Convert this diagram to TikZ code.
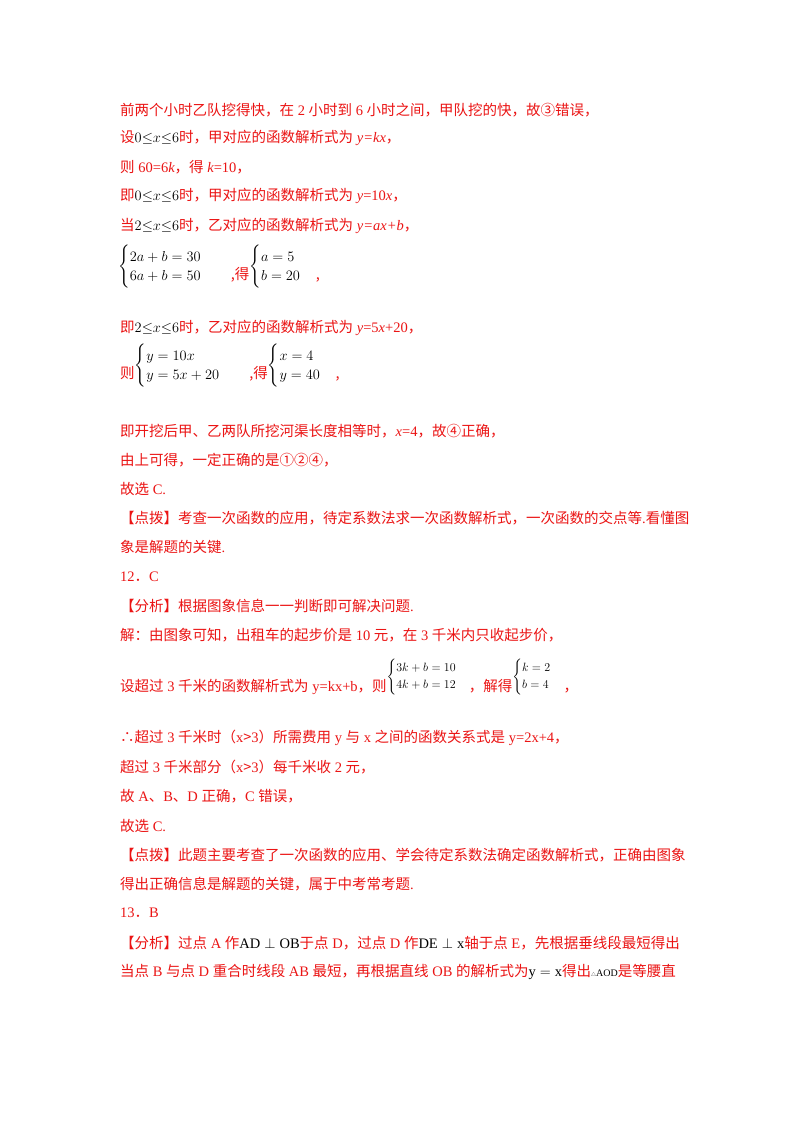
\documentclass[tikz,border=0pt]{standalone}
\usepackage{amsmath}
\usepackage{fontspec}
\setmainfont{Liberation Serif}
\newfontfamily\cjk{Noto Sans CJK SC}
\newcommand\rr[1]{{\rmfamily #1}}
\newcommand\ri[1]{{\rmfamily\itshape #1}}
\newcommand\bm[1]{\textcolor{black}{#1}}
\definecolor{rd}{RGB}{235,20,20}
\begin{document}
\begin{tikzpicture}[x=1pt,y=-1pt,
 t/.style={anchor=west,inner sep=0pt,text=rd,font=\cjk\fontsize{14.5}{16}\selectfont}]
\useasboundingbox[fill=white] (0,0) rectangle (800,1132);
\node[t] (l1) at (120,110) {前两个小时乙队挖得快，在\rr{ 2 }小时到\rr{ 6 }小时之间，甲队挖的快，故③错误，};
\node[t] (l2) at (120,138) {设\bm{$0{\le}x{\le}6$}时，甲对应的函数解析式为\ri{ y=kx}，};
\node[t] (l3) at (120,167) {则\rr{ 60=6}\ri{k}，得\ri{ k}\rr{=10}，};
\node[t] (l4) at (120,196) {即\bm{$0{\le}x{\le}6$}时，甲对应的函数解析式为\ri{ y}\rr{=10}\ri{x}，};
\node[t] (l5) at (120,226) {当\bm{$2{\le}x{\le}6$}时，乙对应的函数解析式为\ri{ y=ax+b}，};
\node[t] (s1) at (118,267) {\bm{$\begin{cases}2a+b=30\\6a+b=50\end{cases}$}\quad\raisebox{-9pt}{,得}\bm{$\begin{cases}a=5\\b=20\end{cases}$}\raisebox{-9pt}{,}};
\node[t] (l6) at (120,328) {即\bm{$2{\le}x{\le}6$}时，乙对应的函数解析式为\ri{ y}\rr{=5}\ri{x}\rr{+20}，};
\node[t] (s3) at (120,366) {\raisebox{-9pt}{则}\bm{$\begin{cases}y=10x\\y=5x+20\end{cases}$}\quad\raisebox{-9pt}{,得}\bm{$\begin{cases}x=4\\y=40\end{cases}$}\raisebox{-9pt}{,}};
\node[t] (l7) at (120,431) {即开挖后甲、乙两队所挖河渠长度相等时，\ri{x}\rr{=4}，故④正确，};
\node[t] (l8) at (120,460) {由上可得，一定正确的是①②④，};
\node[t] (l9) at (120,489) {故选\rr{ C.}};
\node[t] (l10) at (120,518) {【点拨】考查一次函数的应用，待定系数法求一次函数解析式，一次函数的交点等\rr{.}看懂图};
\node[t] (l11) at (120,547) {象是解题的关键\rr{.}};
\node[t] (l12) at (120,577) {\rr{12}．\rr{C}};
\node[t] (l13) at (120,606) {【分析】根据图象信息一一判断即可解决问题\rr{.}};
\node[t] (l14) at (120,635) {解：由图象可知，出租车的起步价是\rr{ 10 }元，在\rr{ 3 }千米内只收起步价，};
\node[t] (l15) at (120,677) {\raisebox{-11pt}{设超过\rr{ 3 }千米的函数解析式为\rr{ y=kx+b}，则}\bm{\fontsize{12}{14}\selectfont$\begin{cases}3k+b=10\\4k+b=12\end{cases}$}\raisebox{-11pt}{，解得}\bm{\fontsize{12}{14}\selectfont$\begin{cases}k=2\\b=4\end{cases}$}\raisebox{-11pt}{，}};
\node[t] (l16) at (120,738) {∴超过\rr{ 3 }千米时（\rr{x}>\rr{3}）所需费用\rr{ y }与\rr{ x }之间的函数关系式是\rr{ y=2x+4}，};
\node[t] (l17) at (120,767) {超过\rr{ 3 }千米部分（\rr{x}>\rr{3}）每千米收\rr{ 2 }元，};
\node[t] (l18) at (120,796) {故\rr{ A}、\rr{B}、\rr{D }正确，\rr{C }错误，};
\node[t] (l19) at (120,826) {故选\rr{ C.}};
\node[t] (l20) at (120,855) {【点拨】此题主要考查了一次函数的应用、学会待定系数法确定函数解析式，正确由图象};
\node[t] (l21) at (120,884) {得出正确信息是解题的关键，属于中考常考题\rr{.}};
\node[t] (l22) at (120,913) {\rr{13}．\rr{B}};
\node[t] (l23) at (120,943) {【分析】过点\rr{ A }作\bm{$\mathrm{AD}\perp\mathrm{OB}$}于点\rr{ D}，过点\rr{ D }作\bm{$\mathrm{DE}\perp\mathrm{x}$}轴于点\rr{ E}，先根据垂线段最短得出};
\node[t] (l24) at (120,972) {当点\rr{ B }与点\rr{ D }重合时线段\rr{ AB }最短，再根据直线\rr{ OB }的解析式为\bm{$\mathrm{y}=\mathrm{x}$}得出\bm{\tiny△\normalsize\rr{AOD}}是等腰直};
\end{tikzpicture}
\end{document}
